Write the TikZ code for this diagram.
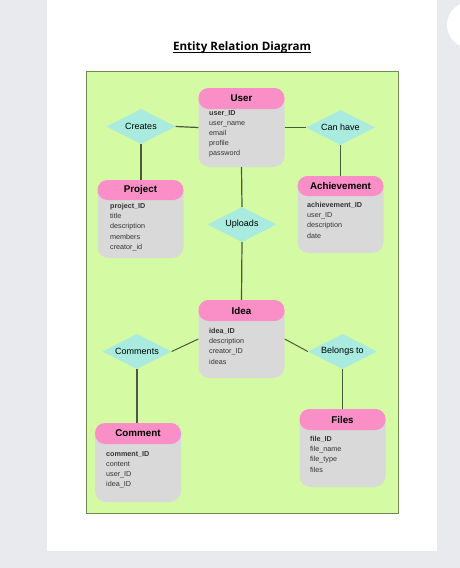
\documentclass[tikz,border=0pt]{standalone}
\usepackage{fontspec}
\setmainfont{Liberation Sans}
\newfontfamily\titlefont{Open Sans}
\usetikzlibrary{shapes.geometric}

\definecolor{canvas}{HTML}{E9EAEE}
\definecolor{board}{HTML}{D4FBA3}
\definecolor{boardline}{HTML}{6E8C50}
\definecolor{headpink}{HTML}{F98FC6}
\definecolor{bodygray}{HTML}{D9D9D9}
\definecolor{relcyan}{HTML}{A9EBDF}
\definecolor{linkline}{HTML}{4B5A3B}

\begin{document}
\begin{tikzpicture}[x=1pt, y=-1pt,
  entity/.style = {fill=bodygray, rounded corners=11pt, minimum width=86pt, minimum height=79pt, inner sep=0pt},
  head/.style = {fill=headpink, rounded corners=10pt, minimum width=86pt, minimum height=21pt, inner sep=0pt, font=\fontsize{9.8}{11}\selectfont\bfseries},
  attrs/.style = {anchor=north west, inner sep=0pt, align=left, font=\fontsize{7.2}{10.2}\selectfont, text=black!80},
  rel/.style = {diamond, aspect=2, fill=relcyan, minimum width=69pt, minimum height=35pt, inner sep=0pt, font=\fontsize{9}{10}\selectfont},
  link/.style = {draw=linkline, line width=1.2pt}]
\useasboundingbox (0,0) rectangle (460,568);
% page and board
\fill[canvas] (0,0) rectangle (460,568);
\fill[white] (47,0) rectangle (437,551);
\fill[white] (470,25) circle (23);
\fill[board] (86,71) rectangle (398,513);
\draw[boardline, line width=0.9pt] (86,71) rectangle (398,513);
\node[inner sep=0pt, font=\titlefont\fontsize{11.6}{14}\selectfont\bfseries] (title) at (242,47) {Entity Relation Diagram};
\draw[line width=0.8pt] ([yshift=-2.2pt]title.base west) -- ([yshift=-2.2pt]title.base east);

% entities
\node[entity, minimum height=79pt] (user) at (241.5,127.5) {};
\node[head] (userhead) at (241.5,98.5) {User};
\node[attrs] (userattrs) at (209,110) {\textbf{user\_ID}\\user\_name\\email\\profile\\password};

\node[entity, minimum height=78pt] (project) at (140.5,219) {};
\node[head, minimum height=20pt] (projecthead) at (140.5,190) {Project};
\node[attrs] (projectattrs) at (110,203) {\textbf{project\_ID}\\title\\description\\members\\creator\_id};

\node[entity, minimum height=77pt] (achievement) at (340.5,214.5) {};
\node[head, minimum height=20pt] (achievementhead) at (340.5,186) {Achievement};
\node[attrs] (achievementattrs) at (307,202) {\textbf{achievement\_ID}\\user\_ID\\description\\date};

\node[entity, minimum height=78pt] (idea) at (241.5,339) {};
\node[head] (ideahead) at (241.5,310.5) {Idea};
\node[attrs] (ideaattrs) at (209,328) {\textbf{idea\_ID}\\description\\creator\_ID\\ideas};

\node[entity, minimum height=79pt] (comment) at (138,462.5) {};
\node[head] (commenthead) at (138,433.5) {Comment};
\node[attrs] (commentattrs) at (106,451) {\textbf{comment\_ID}\\content\\user\_ID\\idea\_ID};

\node[entity, minimum height=78pt] (files) at (342.5,448) {};
\node[head] (fileshead) at (342.5,419.5) {Files};
\node[attrs] (filesattrs) at (310,436) {\textbf{file\_ID}\\file\_name\\file\_type\\files};

% relations
\node[rel] (creates) at (141,126.5) {Creates};
\node[rel] (canhave) at (340.5,127.5) {Can have};
\node[rel] (uploads) at (242,224.5) {Uploads};
\node[rel] (comments) at (137,351.5) {Comments};
\node[rel] (belongs) at (342.5,351.5) {Belongs to};

\draw[link] (creates.east) -- (user.west);
\draw[link] (user.east) -- (canhave.west);
\draw[link] (creates.south) -- (creates.south |- project.north);
\draw[link] (canhave.south) -- (canhave.south |- achievement.north);
\draw[link] (user.south) -- (uploads.north);
\draw[link] (uploads.south) -- (idea.north);
\draw[link, line width=1pt] (comments.east) -- (idea.west);
\draw[link, line width=1pt] (idea.east) -- (belongs.west);
\draw[link] (comments.south) -- (comments.south |- comment.north);
\draw[link] (belongs.south) -- (belongs.south |- files.north);
\end{tikzpicture}
\end{document}
